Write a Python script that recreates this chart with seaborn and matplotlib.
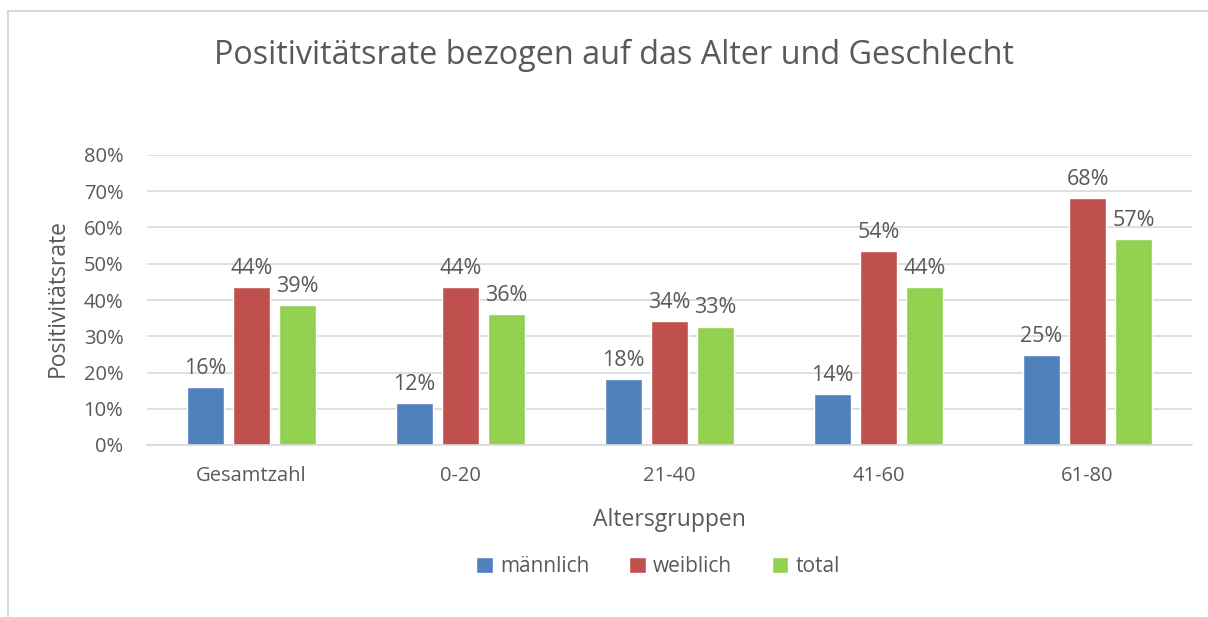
import matplotlib.pyplot as plt
import numpy as np
import pandas as pd
import seaborn as sns
from matplotlib.lines import Line2D
from matplotlib.ticker import PercentFormatter

groups = ["Gesamtzahl", "0-20", "21-40", "41-60", "61-80"]
series = ["männlich", "weiblich", "total"]
maennlich = [0.160, 0.116, 0.182, 0.141, 0.248]
weiblich = [0.436, 0.436, 0.342, 0.535, 0.681]
total = [0.386, 0.361, 0.326, 0.436, 0.568]
colors = ["#4F81BD", "#C0504D", "#92D050"]

df = pd.DataFrame({"Altersgruppen": groups * 3,
                   "Serie": np.repeat(series, len(groups)),
                   "Rate": maennlich + weiblich + total})

sns.set_theme(style="white")
plt.rcParams["font.family"] = ["Open Sans", "DejaVu Sans"]
text_col = "#595959"
grid_col = "#D9D9D9"

fig = plt.figure(figsize=(12.08, 6.17), dpi=100)
ax = fig.add_axes([147 / 1208, 1 - 445 / 617, 1045 / 1208, 290 / 617])

sns.barplot(data=df, x="Altersgruppen", y="Rate", hue="Serie", order=groups,
            hue_order=series, palette=colors, width=0.66, gap=0.18,
            saturation=1, ax=ax, legend=True)

ax.set_xlim(-0.5, len(groups) - 0.5)
ax.set_ylim(0, 0.8)
ax.set_yticks(np.arange(0, 0.81, 0.1))
ax.yaxis.set_major_formatter(PercentFormatter(1.0, decimals=0))
ax.grid(axis="y", color=grid_col, linewidth=1.2)
ax.set_axisbelow(True)
for s in ["left", "right", "top"]:
    ax.spines[s].set_visible(False)
ax.spines["bottom"].set_color(grid_col)
ax.spines["bottom"].set_linewidth(1.2)
ax.tick_params(axis="both", length=0, labelsize=14.5, colors=text_col)
ax.tick_params(axis="y", pad=17)
ax.tick_params(axis="x", pad=15)

for c in ax.containers:
    ax.bar_label(c, labels=[f"{v * 100:.0f}%" for v in c.datavalues],
                 padding=6, fontsize=15.5, color=text_col)

ax.set_xlabel("Altersgruppen", fontsize=16.5, color=text_col, labelpad=16)
ax.set_ylabel("Positivitätsrate", fontsize=16.5, color=text_col)
ax.yaxis.set_label_coords(70 / 1208, 1 - 298 / 617, transform=fig.transFigure)

leg = ax.legend(loc="center", bbox_to_anchor=(658 / 1208, 1 - 567 / 617),
                bbox_transform=fig.transFigure, ncol=3, frameon=False,
                fontsize=15, handlelength=0.8, handleheight=0.8,
                handletextpad=0.35, columnspacing=1.9)
for t in leg.get_texts():
    t.set_color(text_col)

fig.text(614 / 1208, 1 - 55 / 617, "Positivitätsrate bezogen auf das Alter und Geschlecht",
         ha="center", va="center", fontsize=23.3, color=text_col)

# chart frame (left and top edges visible)
fig.add_artist(Line2D([8 / 1208, 8 / 1208], [0, 1 - 11 / 617], transform=fig.transFigure,
                      color=grid_col, linewidth=1.5))
fig.add_artist(Line2D([8 / 1208, 1], [1 - 11 / 617, 1 - 11 / 617], transform=fig.transFigure,
                      color=grid_col, linewidth=1.5))

fig.savefig("out.png", dpi=100, facecolor="white")
